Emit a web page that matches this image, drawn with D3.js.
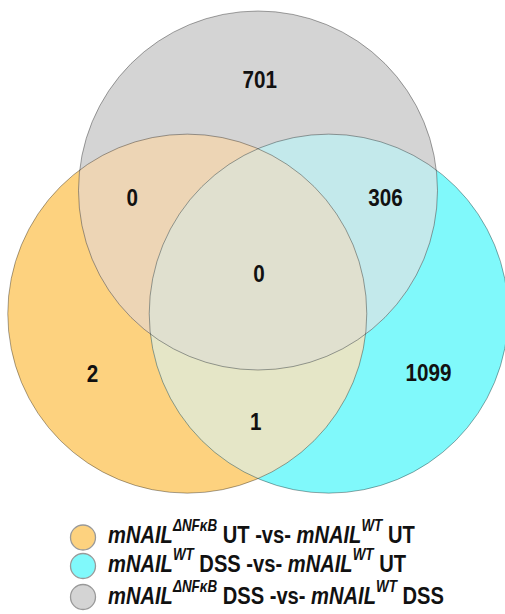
<!DOCTYPE html>
<html><head><meta charset="utf-8">
<script src="https://cdn.jsdelivr.net/npm/d3@7"></script>
<style>body{margin:0;background:#fff}svg{display:block}</style>
</head><body>
<svg id="c" width="505" height="614"></svg>
<script>
// ---- data ----
const setKeys = ["A", "B", "C"]; // A: dNFkB UT vs WT UT, B: WT DSS vs WT UT, C: dNFkB DSS vs WT DSS
const setColors = ["#FDD27F", "#80F9FB", "#D4D4D4"];
const regionKeys = ["A", "B", "C", "AB", "AC", "BC", "ABC"];
const regionCounts = [2, 1099, 701, 1, 0, 306, 0];
const regionColors = { AB: "#E5E6C7", AC: "#EDD5B5", BC: "#C3E9EB", ABC: "#E0E0CF" };
const legendMain = ["mNAIL", "mNAIL", "mNAIL"];
const legendSup1 = ["\u0394NF\u03BAB", "WT", "\u0394NF\u03BAB"];
const legendMid = [" UT -vs- ", " DSS -vs- ", " DSS -vs- "];
const legendSup2 = ["WT", "WT", "WT"];
const legendEnd = [" UT", " UT", " DSS"];

// ---- layout ----
const svg = d3.select("#c");
const R = 179.5;
const FONT = "Liberation Sans, Arial, sans-serif";
const x = d3.scaleLinear().domain([-1, 1]).range([258 - R, 258 + R]);
const y = d3.scaleLinear().domain([-1, 1]).range([190.5 - R, 190.5 + R]);
const centers = {
  A: [x(-0.394), y(0.686)],
  B: [x(0.394), y(0.686)],
  C: [x(0), y(0)]
};
const defs = svg.append("defs");
setKeys.forEach(k => {
  defs.append("clipPath").attr("id", "clip" + k)
    .append("circle").attr("cx", centers[k][0]).attr("cy", centers[k][1]).attr("r", R);
});
const g = svg.append("g");
setKeys.forEach((k, i) => {
  g.append("circle").attr("cx", centers[k][0]).attr("cy", centers[k][1]).attr("r", R)
    .attr("fill", setColors[i]);
});
["AB", "AC", "BC", "ABC"].forEach(key => {
  const ks = key.split("");
  let parent = g;
  ks.slice(0, -1).forEach(k => { parent = parent.append("g").attr("clip-path", `url(#clip${k})`); });
  const last = ks[ks.length - 1];
  parent.append("circle").attr("cx", centers[last][0]).attr("cy", centers[last][1]).attr("r", R)
    .attr("fill", regionColors[key]);
});
setKeys.forEach(k => {
  g.append("circle").attr("cx", centers[k][0]).attr("cy", centers[k][1]).attr("r", R)
    .attr("fill", "none").attr("stroke", "#000").attr("stroke-opacity", 0.35).attr("stroke-width", 1);
});

const labelPos = {
  A: [-0.922, 1.02], B: [0.95, 1.015], C: [0.01, -0.62],
  AB: [-0.012, 1.285], AC: [-0.70, 0.04], BC: [0.71, 0.04], ABC: [0.005, 0.46]
};
regionKeys.forEach((k, i) => {
  g.append("text")
    .attr("transform", `translate(${x(labelPos[k][0])},${y(labelPos[k][1]) + 8.5}) scale(0.86,1)`)
    .attr("text-anchor", "middle")
    .attr("font-family", FONT).attr("font-weight", "bold")
    .attr("font-size", 24).attr("fill", "#111").text(regionCounts[i]);
});

// legend
const leg = svg.append("g");
const rowCy = [537.5, 566, 597];
const rowBase = [543, 572, 604];
const texts = [];
legendMain.forEach((m, i) => {
  leg.append("circle").attr("cx", 83).attr("cy", rowCy[i]).attr("r", 12.5)
    .attr("fill", setColors[i]).attr("stroke", "#999").attr("stroke-width", 1.3);
  const t = leg.append("text")
    .attr("font-family", FONT).attr("font-weight", "bold")
    .attr("font-size", 24).attr("fill", "#111");
  t.append("tspan").attr("font-style", "italic").text(m);
  t.append("tspan").attr("font-style", "italic").attr("font-size", 16).attr("dy", -12).text(legendSup1[i]);
  t.append("tspan").attr("dy", 12).text(legendMid[i]);
  t.append("tspan").attr("font-style", "italic").text(legendMain[i]);
  t.append("tspan").attr("font-style", "italic").attr("font-size", 16).attr("dy", -12).text(legendSup2[i]);
  t.append("tspan").attr("dy", 12).text(legendEnd[i]);
  texts.push(t);
});
// condense to the reference's narrow face
const w0 = texts[0].node().getComputedTextLength();
const sx = 307 / w0;
texts.forEach((t, i) => t.attr("transform", `translate(108,${rowBase[i]}) scale(${sx},1)`));
</script>
</body></html>
